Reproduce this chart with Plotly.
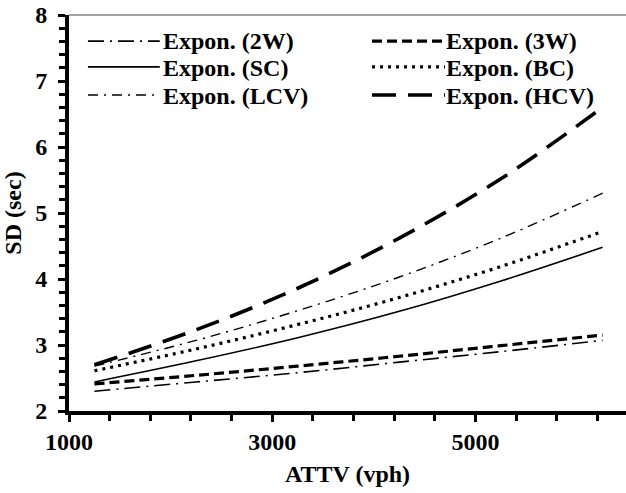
import plotly.graph_objects as go

attv = [1250, 2250, 3250, 4250, 5250, 6250]
sd_2w = [2.30, 2.44, 2.58, 2.74, 2.90, 3.07]
sd_3w = [2.41, 2.54, 2.68, 2.83, 2.99, 3.15]
sd_sc = [2.44, 2.76, 3.11, 3.51, 3.97, 4.48]
sd_bc = [2.61, 2.94, 3.31, 3.72, 4.19, 4.72]
sd_lcv = [2.68, 3.07, 3.52, 4.03, 4.62, 5.30]
sd_hcv = [2.70, 3.23, 3.86, 4.62, 5.52, 6.60]

names = ["Expon. (2W)", "Expon. (3W)", "Expon. (SC)", "Expon. (BC)", "Expon. (LCV)", "Expon. (HCV)"]
values = [sd_2w, sd_3w, sd_sc, sd_bc, sd_lcv, sd_hcv]
styles = [
    ("16px,6px,2px,6px", 1.6),
    ("10px,5px", 3.2),
    ("solid", 1.6),
    ("3px,5px", 3.2),
    ("10px,6px,2px,6px", 1.4),
    ("24px,12px", 3.6),
]

FONT = "Liberation Serif"

fig = go.Figure()
for name, ys, (dash, w) in zip(names, values, styles):
    fig.add_trace(go.Scatter(
        x=attv, y=ys, mode="lines", name=name, showlegend=False,
        line=dict(color="black", width=w, dash=dash, shape="spline"),
    ))

# custom legend (2 columns x 3 rows, row-major order) in paper coordinates
col_line = [(0.034, 0.163), (0.544, 0.675)]
col_text = [0.166, 0.674]
row_line_y = [0.934, 0.869, 0.798]
row_text_y = [0.935, 0.865, 0.795]
shapes = [dict(type="line", xref="paper", yref="paper", x0=0, x1=1, y0=1, y1=1,
               line=dict(color="#444", width=1.2))]
annotations = []
for i, (name, (dash, w)) in enumerate(zip(names, styles)):
    r, c = divmod(i, 2)
    x0, x1 = col_line[c]
    shapes.append(dict(type="line", xref="paper", yref="paper", x0=x0, x1=x1,
                       y0=row_line_y[r], y1=row_line_y[r],
                       line=dict(color="black", width=w, dash=dash)))
    annotations.append(dict(text=f"<b>{name}</b>", xref="paper", yref="paper",
                            x=col_text[c], y=row_text_y[r], xanchor="left", yanchor="middle",
                            showarrow=False, font=dict(family=FONT, size=24, color="black")))

fig.update_layout(
    width=626, height=493,
    margin=dict(l=69, r=0, t=15, b=82),
    paper_bgcolor="white", plot_bgcolor="white",
    font=dict(family=FONT, size=20, color="black"),
    showlegend=False,
    xaxis=dict(
        range=[1000, 6480], tickmode="array", tickvals=[1000, 3000, 5000],
        ticktext=["<b>1000</b>", "<b>3000</b>", "<b>5000</b>"],
        automargin=False,
        showgrid=False, zeroline=False, showline=True, linecolor="black", linewidth=4,
        ticks="outside", ticklen=7, tickwidth=3, tickcolor="black",
        minor=dict(tickmode="linear", tick0=1000, dtick=400, ticks="outside", ticklen=6, tickwidth=3, tickcolor="black", showgrid=False),
        tickfont=dict(family=FONT, size=24, color="black"),
        ticklabelstandoff=-1,
        title=dict(text="<b>ATTV (vph)</b>", font=dict(family=FONT, size=24, color="black"), standoff=12),
    ),
    yaxis=dict(
        range=[2, 8], tickmode="array", tickvals=[2, 3, 4, 5, 6, 7, 8],
        ticktext=[f"<b>{v}</b>" for v in [2, 3, 4, 5, 6, 7, 8]],
        automargin=False,
        showgrid=False, zeroline=False, showline=True, linecolor="black", linewidth=4,
        ticks="outside", ticklen=7, tickwidth=3, tickcolor="black",
        minor=dict(tickmode="linear", tick0=2, dtick=0.2, ticks="outside", ticklen=6, tickwidth=3, tickcolor="black", showgrid=False),
        tickfont=dict(family=FONT, size=24, color="black"),
        ticklabelstandoff=6,
        title=dict(text="<b>SD (sec)</b>", font=dict(family=FONT, size=24, color="black"), standoff=10),
    ),
    shapes=shapes,
    annotations=annotations,
)

fig.write_html("out.html", config={"displayModeBar": False},
               post_script="document.body.style.margin='0';")
